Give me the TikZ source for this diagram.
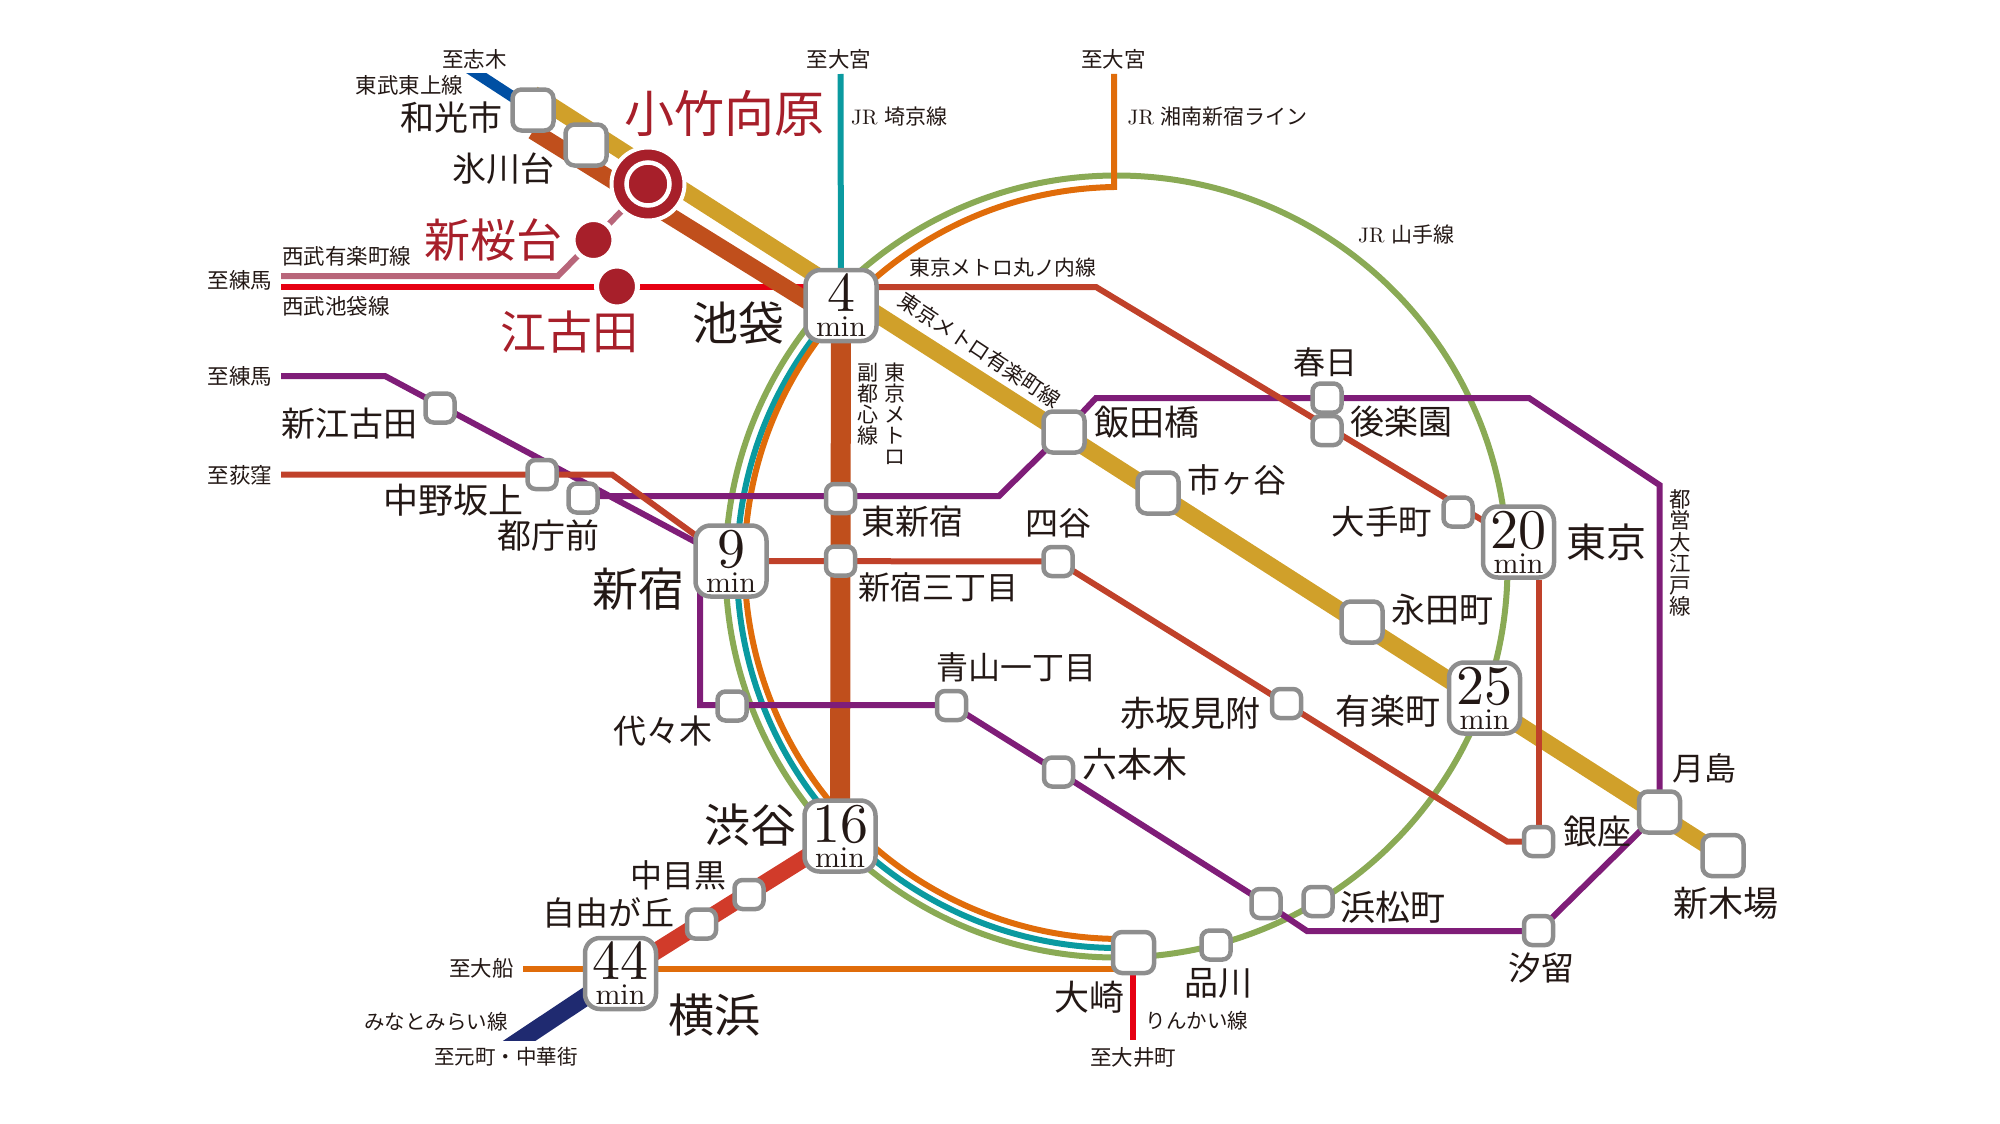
\documentclass[tikz,border=0pt]{standalone}
\usepackage{fontspec}
\newfontfamily\jpfont{Noto Sans CJK JP}
\newfontfamily\numfont{lmroman10-regular.otf}
\usetikzlibrary{backgrounds}
\definecolor{ink}{HTML}{231815}
\definecolor{boxgray}{HTML}{8E8E8E}
\definecolor{kred}{HTML}{A71F2A}
\definecolor{yamanote}{HTML}{8AAA55}
\definecolor{saikyo}{HTML}{0A9AA0}
\definecolor{shonan}{HTML}{E06C0A}
\definecolor{yurakucho}{HTML}{D0A02A}
\definecolor{fukutoshin}{HTML}{C04F1C}
\definecolor{marunouchi}{HTML}{C0412A}
\definecolor{oedo}{HTML}{7F1D78}
\definecolor{seibured}{HTML}{E60012}
\definecolor{seibupink}{HTML}{B8667A}
\definecolor{tobu}{HTML}{004FA3}
\definecolor{minato}{HTML}{1F2A70}
\definecolor{toyoko}{HTML}{D13B2A}
\tikzset{
  stbox/.style={draw=boxgray, fill=white, line width=4.5pt, rounded corners=8pt,
    minimum size=29pt, inner sep=0pt},
  bigbox/.style={stbox, minimum size=41pt, rounded corners=9pt},
  timebox/.style={draw=boxgray, fill=white, line width=4.5pt, rounded corners=15pt,
    minimum size=71pt, inner sep=0pt, align=center, text=ink,
    font=\fontsize{30}{25}\numfont},
  lab/.style={font=\fontsize{#1}{#1}\jpfont, text=ink, inner sep=0pt},
  lab/.default=21.5,
  redlab/.style={lab=#1, text=kred},
  reddot/.style={circle, fill=kred, draw=white, line width=5pt, minimum size=41pt,
    inner sep=0pt},
  rail/.style={line width=#1, line join=miter},
  rail/.default=6pt
}
\newcommand{\mintime}[1]{{\fontsize{56}{25}\numfont #1}\\min}
\begin{document}
\begin{tikzpicture}[x=1pt, y=1pt, yscale=-1]
  \useasboundingbox (0,0) rectangle (2000,1124);

  \node[bigbox] (wakoshi) at (533,110) {};
  \node[bigbox] (hikawadai) at (586,145) {};
  \node[circle, fill=kred, draw=white, line width=4pt, minimum size=73pt, inner sep=0pt]
    (mukaihara) at (648,184) {};
  \node[circle, fill=kred, draw=white, line width=4.5pt, minimum size=43pt, inner sep=0pt]
    (mukaiharacore) at (648,184) {};
  \node[reddot] (sakuradai) at (593.5,240) {};
  \node[reddot] (ekoda) at (617,286.5) {};

  \node[timebox] (ikebukuro) at (841,305.5) {\mintime{4}};
  \node[timebox] (shinjuku) at (731,561) {\mintime{9}};
  \node[timebox] (shibuya) at (840,836) {\mintime{16}};
  \node[timebox] (yokohama) at (620.5,973.5) {\mintime{44}};
  \node[timebox] (tokyo) at (1518.5,542) {\mintime{20}};
  \node[timebox] (yurakuchost) at (1484.5,698) {\mintime{25}};

  \node[stbox] (shinegota) at (440,408) {};
  \node[stbox] (nakanosakaue) at (542,474.5) {};
  \node[stbox] (tochomae) at (583,498) {};
  \node[stbox] (higashishinjuku) at (840.5,498.5) {};
  \node[stbox] (sanchome) at (840.5,561) {};
  \node[stbox] (yotsuya) at (1058,561.5) {};
  \node[bigbox] (iidabashi) at (1064,432) {};
  \node[bigbox] (ichigaya) at (1158,493) {};
  \node[stbox] (kasuga) at (1327,398) {};
  \node[stbox] (korakuen) at (1327,430.5) {};
  \node[stbox] (otemachi) at (1458,512) {};
  \node[bigbox] (nagatacho) at (1362,622) {};
  \node[stbox] (akasaka) at (1286.5,703.5) {};
  \node[stbox] (yoyogi) at (732,706) {};
  \node[stbox] (aoyama) at (951.5,705.5) {};
  \node[stbox] (roppongi) at (1058.5,772) {};
  \node[stbox] (ginza) at (1538.5,841.5) {};
  \node[bigbox] (tsukishima) at (1659.5,812) {};
  \node[bigbox] (shinkiba) at (1723,855.5) {};
  \node[stbox] (daimon) at (1266,903.5) {};
  \node[stbox] (hamamatsucho) at (1318,901.5) {};
  \node[stbox] (shiodome) at (1538.5,930.5) {};
  \node[bigbox] (osaki) at (1133.5,952.5) {};
  \node[stbox] (shinagawa) at (1216,945) {};
  \node[stbox] (nakameguro) at (749,894.5) {};
  \node[stbox] (jiyugaoka) at (701.5,924) {};

  \coordinate (yurakutop) at (533,94);
  \coordinate (fukutop) at (533,131);
  \coordinate (fukuturn) at (841,322);
  \coordinate (tobuend) at (447,54);
  \coordinate (minatoend) at (490,1060.3);
  \coordinate (saikyotop) at (840.5,74);
  \coordinate (shonantop) at (1114,74);
  \coordinate (shonanbend) at (1114,187);
  \coordinate (tokaidoend) at (523,968.7);
  \coordinate (rinkaiend) at (1133,1040);
  \coordinate (seibuend) at (281,287);
  \coordinate (pinkend) at (281,276);
  \coordinate (pinkbend) at (558,276);
  \coordinate (oedoend) at (281,376);
  \coordinate (oedoa) at (385,376);
  \coordinate (oedob) at (999,496);
  \coordinate (oedoc) at (1096,398);
  \coordinate (oedod) at (1529,398);
  \coordinate (oedoe) at (1659.5,485);
  \coordinate (oedof) at (700,705);
  \coordinate (oedog) at (1307,931);
  \coordinate (maruend) at (281,474.5);
  \coordinate (marua) at (612,474.5);
  \coordinate (marub) at (1096,287);
  \coordinate (maruc) at (1507,841.5);

  \begin{scope}[on background layer]
    \draw[yamanote, rail] (1116.5,566.5) circle[radius=391];
    \draw[saikyo, rail] (1118,567) ++(225:381) arc[start angle=225, end angle=88, radius=381];
    \draw[shonan, rail] (shonantop) -- (shonanbend)
      arc[start angle=269, end angle=88, radius=376];
    \draw[saikyo, rail] (saikyotop) -- (ikebukuro.center);
    \draw[shonan, rail] (tokaidoend) -- (tokaidoend -| osaki.center);
    \draw[seibured, rail] (rinkaiend |- osaki.center) -- (rinkaiend);
    \draw[seibured, rail] (seibuend) -- (seibuend -| ikebukuro.center);
    \draw[seibupink, rail] (pinkend) -- (pinkbend) -- (mukaihara.center);
    \begin{scope}
      \clip (400,74) rectangle (560,200);
      \draw[tobu, rail=11pt] (wakoshi.center) -- (tobuend);
    \end{scope}
    \begin{scope}
      \clip (400,900) rectangle (700,1040.7);
      \draw[minato, rail=18pt] (yokohama.center) -- (minatoend);
    \end{scope}
    \draw[toyoko, rail=17pt] (shibuya.center) -- (yokohama.center);
    \draw[fukutoshin, rail=17pt] (fukutop) -- (fukuturn);
    \draw[fukutoshin, rail=20pt] (ikebukuro.center) -- (shibuya.center);
    \draw[yurakucho, rail=17pt] (yurakutop) -- (shinkiba.center);
    \draw[oedo, rail] (oedoend) -- (oedoa) -- (shinjuku.center) -- (oedof |- shinjuku.center)
      -- (oedof) -- (oedof -| aoyama.center) -- (roppongi.center) -- (daimon.center) -- (oedog)
      -- (oedog -| shiodome.center) -- (tsukishima.center) -- (oedoe) -- (oedod) -- (oedoc)
      -- (iidabashi.center) -- (oedob) -- (oedob -| tochomae.center);
    \draw[marunouchi, rail] (maruend) -- (marua) -- (shinjuku.center) -- (yotsuya.center)
      -- (maruc) -- (ginza.center);
    \draw[marunouchi, rail] (marub -| ikebukuro.center) -- (marub) -- (tokyo.center);
    \draw[marunouchi, rail] (tokyo.south -| ginza.center) -- (ginza.center);
  \end{scope}

  \node[redlab=50] (mukaiharalab) at (724,113) {小竹向原};
  \node[redlab=46] (sakuradailab) at (493,240) {新桜台};
  \node[redlab=46] (ekodalab) at (569,332) {江古田};
  \node[lab=34] (wakoshilab) at (451,118) {和光市};
  \node[lab=34] (hikawadailab) at (503.5,168.5) {氷川台};
  \node[lab=46] (ikebukurolab) at (738,323) {池袋};
  \node[lab=34] (shinegotalab) at (349,423.5) {新江古田};
  \node[lab=35] (nakanosakauelab) at (453.5,500) {中野坂上};
  \node[lab=34] (tochomaelab) at (548,536) {都庁前};
  \node[lab=46] (shinjukulab) at (638,589) {新宿};
  \node[lab=33] (yoyogilab) at (663,731) {代々木};
  \node[lab=34] (higashishinjukulab) at (912.5,522) {東新宿};
  \node[lab=32] (sanchomelab) at (938.5,587) {新宿三丁目};
  \node[lab=33] (yotsuyalab) at (1058.5,523) {四谷};
  \node[lab=35] (iidabashilab) at (1147,422) {飯田橋};
  \node[lab=33] (ichigayalab) at (1236.5,480) {市ヶ谷};
  \node[lab=32] (kasugalab) at (1325.5,362) {春日};
  \node[lab=34] (korakuenlab) at (1401,422) {後楽園};
  \node[lab=33.5] (otemachilab) at (1382,522) {大手町};
  \node[lab=40] (tokyolab) at (1606,542) {東京};
  \node[lab=34] (nagatacholab) at (1442,610) {永田町};
  \node[lab=35] (yurakucholab) at (1388,711) {有楽町};
  \node[lab=35] (akasakalab) at (1190.5,713) {赤坂見附};
  \node[lab=32] (aoyamalab) at (1016,667) {青山一丁目};
  \node[lab=35] (roppongilab) at (1135,764) {六本木};
  \node[lab=34] (ginzalab) at (1597,832) {銀座};
  \node[lab=32] (tsukishimalab) at (1704,768) {月島};
  \node[lab=35] (shinkibalab) at (1725.5,903) {新木場};
  \node[lab=35] (hamamatsucholab) at (1392.5,907) {浜松町};
  \node[lab=33] (shiodomelab) at (1541,968) {汐留};
  \node[lab=34] (shinagawalab) at (1218,983) {品川};
  \node[lab=35] (osakilab) at (1089,997) {大崎};
  \node[lab=46] (yokohamalab) at (714,1015) {横浜};
  \node[lab=33] (jiyugaokalab) at (608.5,913) {自由が丘};
  \node[lab=32] (nakamegurolab) at (678.5,875) {中目黒};
  \node[lab=46] (shibuyalab) at (750,825) {渋谷};

  \node[lab] (shikilab) at (474.5,59) {至志木};
  \node[lab] (tobulab) at (409.5,85.5) {東武東上線};
  \node[lab] (omiyaalab) at (839,59) {至大宮};
  \node[lab] (omiyablab) at (1113.5,59) {至大宮};
  \node[lab, anchor=west] (saikyolab) at (851,117) {\fontsize{21}{21}\numfont JR {\jpfont 埼京線}};
  \node[lab, anchor=west] (shonanlab) at (1127.5,117) {\fontsize{21}{21}\numfont JR {\jpfont 湘南新宿ライン}};
  \node[lab, anchor=west] (yamanotelab) at (1358,235) {\fontsize{21}{21}\numfont JR {\jpfont 山手線}};
  \node[lab=20.8, anchor=west] (marunouchilab) at (909,268) {東京メトロ丸ノ内線};
  \node[lab=21, rotate=-33.5] (yurakulinelab) at (980,350) {東京メトロ有楽町線};
  \node[lab=21, align=center, anchor=north] (metrolab) at (895,363) {東\\京\\メ\\ト\\ロ};
  \node[lab=21, align=center, anchor=north] (fukulinelab) at (868,363) {副\\都\\心\\線};
  \node[lab=21.5, align=center, anchor=north] (oedolab) at (1680.5,489) {都\\営\\大\\江\\戸\\線};
  \node[lab] (nerimaalab) at (240,280.5) {至練馬};
  \node[lab, anchor=west] (pinklinelab) at (282,256.5) {西武有楽町線};
  \node[lab, anchor=west] (seibulinelab) at (282,306) {西武池袋線};
  \node[lab] (nerimablab) at (240,376) {至練馬};
  \node[lab] (ogikubolab) at (240,475) {至荻窪};
  \node[lab] (ofunalab) at (481.5,968) {至大船};
  \node[lab=20.5] (minatolab) at (436,1021.7) {みなとみらい線};
  \node[lab=20.5] (motomachilab) at (506,1056.7) {至元町・中華街};
  \node[lab=20.5] (rinkailab) at (1197,1021) {りんかい線};
  \node[lab] (oimachilab) at (1133,1057) {至大井町};
\end{tikzpicture}
\end{document}
